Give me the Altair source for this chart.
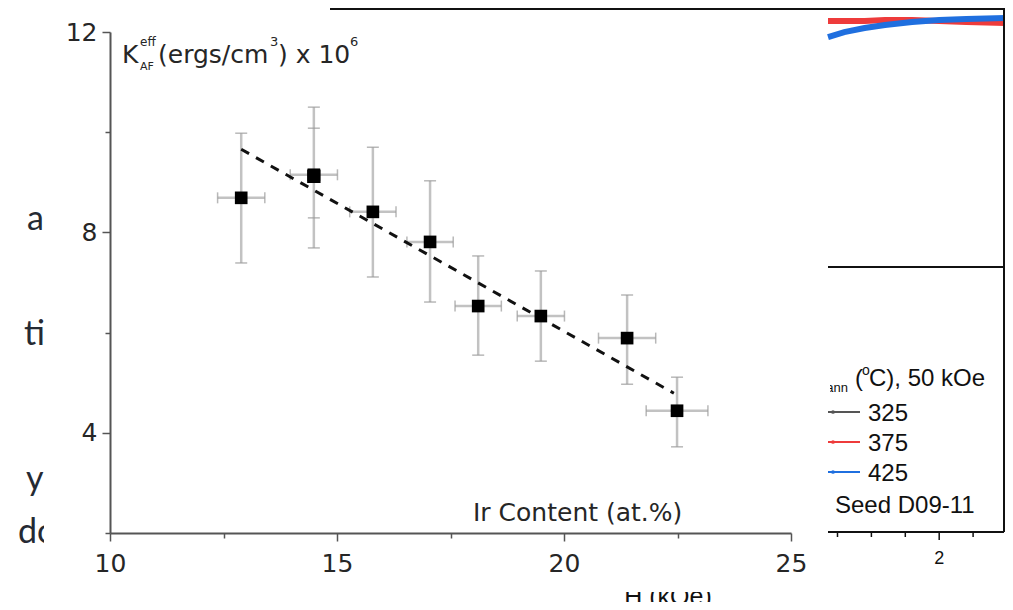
import altair as alt
import pandas as pd

# ---------------- main chart data ----------------
ir_content = [12.89, 14.49, 15.79, 17.05, 18.11, 19.49, 21.39, 22.49]
k_eff      = [8.69, 9.15, 8.41, 7.81, 6.53, 6.33, 5.89, 4.44]
k_low      = [7.39, 7.69, 7.11, 6.61, 5.55, 5.43, 4.97, 3.72]
k_high     = [9.98, 10.50, 9.70, 9.03, 7.53, 7.23, 6.75, 5.11]
ir_err     = [0.52, 0.52, 0.51, 0.51, 0.51, 0.52, 0.63, 0.68]

# overlapping repeat measurement at ~14.5 at.%
ir_rep     = [14.49]
k_rep      = [9.12]
k_rep_low  = [8.29]
k_rep_high = [10.08]

# linear fit (dashed)
fit_ir = [12.89, 22.42]
fit_k  = [9.66, 4.79]

x_ticks = [10, 12.5, 15, 17.5, 20, 22.5, 25]
y_ticks = [2, 4, 6, 8, 10, 12]

# ---------------- fragment of neighbouring figure (right) ----------------
field_h = [1.18, 1.3, 1.45, 1.6, 1.8, 2.0, 2.2, 2.5]
m_375   = [0.932, 0.932, 0.932, 0.936, 0.936, 0.932, 0.928, 0.924]
m_425   = [0.871, 0.890, 0.905, 0.917, 0.928, 0.936, 0.939, 0.943]
h_minor = [1.25, 1.5, 1.75, 2.25, 2.5]
h_major = [2.0]
h_major_labels = ["2"]
legend_labels = ["325", "375", "425"]
legend_colors = ["#555555", "#ee3b3b", "#1f6fdf"]

MAIN_FONT = "DejaVu Sans"
LEG_FONT = "Liberation Sans"
FRAG_FONT = "Lato"
MAIN_COL = "#262626"

one = pd.DataFrame({"d": [0]})


def vtext(s, x, y, size, font, color=MAIN_COL, align="left", baseline="alphabetic"):
    return alt.Chart(pd.DataFrame({"t": [s]})).mark_text(
        align=align, baseline=baseline, font=font, fontSize=size, color=color
    ).encode(text="t:N", x=alt.value(x), y=alt.value(y))


def vrule(x1, y1, x2, y2, color="#111111", width=2):
    return alt.Chart(one).mark_rule(color=color, strokeWidth=width).encode(
        x=alt.value(x1), x2=alt.value(x2), y=alt.value(y1), y2=alt.value(y2)
    )


df = pd.DataFrame({
    "ir": ir_content, "k": k_eff, "klo": k_low, "khi": k_high,
    "irlo": [a - e for a, e in zip(ir_content, ir_err)],
    "irhi": [a + e for a, e in zip(ir_content, ir_err)],
})
df_rep = pd.DataFrame({"ir": ir_rep, "k": k_rep, "klo": k_rep_low, "khi": k_rep_high})
df_fit = pd.DataFrame({"ir": fit_ir, "k": fit_k})

xs = alt.Scale(domain=[10, 25], nice=False, zero=False)
ys = alt.Scale(domain=[2, 12], nice=False, zero=False)

xaxis = alt.Axis(
    values=x_ticks, title=None, grid=False,
    labelExpr="datum.value % 5 == 0 ? datum.label : ''",
    domainColor="#555555", domainWidth=2, tickColor="#555555", tickWidth=1.5,
    tickSize={"condition": {"test": "datum.value % 5 == 0", "value": 8}, "value": 5},
    labelFont=MAIN_FONT, labelFontSize=25, labelColor=MAIN_COL, labelPadding=10,
    labelFlush=False, labelOverlap=False, zindex=1,
)
yaxis = alt.Axis(
    values=y_ticks, title=None, grid=False,
    labelExpr="datum.value % 4 == 0 ? datum.label : ''",
    domainColor="#555555", domainWidth=2, tickColor="#555555", tickWidth=1.5,
    tickSize={"condition": {"test": "datum.value % 4 == 0", "value": 8}, "value": 5},
    labelFont=MAIN_FONT, labelFontSize=25, labelColor=MAIN_COL, labelPadding=5,
    labelFlush=False, labelOverlap=False, zindex=1,
)


def X(f):
    return alt.X(f, type="quantitative", scale=xs, axis=xaxis)


def Y(f):
    return alt.Y(f, type="quantitative", scale=ys, axis=yaxis)


ERR = "#c2c2c2"
CAP = "#9a9a9a"

vbars = alt.Chart(df).mark_rule(color=ERR, strokeWidth=2.5).encode(x=X("ir"), y=Y("klo"), y2="khi")
hbars = alt.Chart(df).mark_rule(color=ERR, strokeWidth=2.5).encode(x=X("irlo"), x2="irhi", y=Y("k"))
cap_lo = alt.Chart(df).mark_tick(orient="horizontal", size=12, thickness=1.5, color=CAP).encode(x=X("ir"), y=Y("klo"))
cap_hi = alt.Chart(df).mark_tick(orient="horizontal", size=12, thickness=1.5, color=CAP).encode(x=X("ir"), y=Y("khi"))
cap_l = alt.Chart(df).mark_tick(orient="vertical", size=11, thickness=1.5, color=CAP).encode(x=X("irlo"), y=Y("k"))
cap_r = alt.Chart(df).mark_tick(orient="vertical", size=11, thickness=1.5, color=CAP).encode(x=X("irhi"), y=Y("k"))
rep_lo = alt.Chart(df_rep).mark_tick(orient="horizontal", size=12, thickness=1.5, color=CAP).encode(x=X("ir"), y=Y("klo"))
rep_hi = alt.Chart(df_rep).mark_tick(orient="horizontal", size=12, thickness=1.5, color=CAP).encode(x=X("ir"), y=Y("khi"))
fit = alt.Chart(df_fit).mark_line(color="#111111", strokeWidth=3, strokeDash=[9, 8]).encode(x=X("ir"), y=Y("k"))
pts = alt.Chart(df).mark_square(size=160, color="#000000", opacity=1).encode(x=X("ir"), y=Y("k"))
pts_rep = alt.Chart(df_rep).mark_square(size=180, color="#000000", opacity=1).encode(x=X("ir"), y=Y("k"))

main_texts = [
    vtext("K", 12, 31, 25, MAIN_FONT),
    vtext("eff", 30, 14, 12, MAIN_FONT),
    vtext("AF", 30, 38, 11, MAIN_FONT),
    vtext("(ergs/cm", 48, 31, 25, MAIN_FONT),
    vtext("3", 160, 14, 13, MAIN_FONT),
    vtext(") x 10", 168, 31, 25, MAIN_FONT),
    vtext("6", 240, 14, 13, MAIN_FONT),
    vtext("Ir Content (at.%)", 363, 489, 25, MAIN_FONT),
]

main = alt.layer(vbars, hbars, cap_lo, cap_hi, cap_l, cap_r, rep_lo, rep_hi,
                 fit, pts, pts_rep, *main_texts)

# ---------------- right fragment (independent scales) ----------------
hs = alt.Scale(domain=[1.18, 2.5], range=[718, 897], nice=False, zero=False)
ms = alt.Scale(domain=[0, 1], range=[235, -29], nice=False, zero=False)

df_375 = pd.DataFrame({"h": field_h, "m": m_375})
df_425 = pd.DataFrame({"h": field_h, "m": m_425})
curve_375 = alt.Chart(df_375).mark_line(color=legend_colors[1], strokeWidth=6).encode(
    x=alt.X("h:Q", scale=hs, axis=None), y=alt.Y("m:Q", scale=ms, axis=None))
curve_425 = alt.Chart(df_425).mark_line(color=legend_colors[2], strokeWidth=6).encode(
    x=alt.X("h:Q", scale=hs, axis=None), y=alt.Y("m:Q", scale=ms, axis=None))
ticks_minor = alt.Chart(pd.DataFrame({"h": h_minor})).mark_rule(color="#111111", strokeWidth=1.5).encode(
    x=alt.X("h:Q", scale=hs, axis=None), y=alt.value(500), y2=alt.value(505))
ticks_major = alt.Chart(pd.DataFrame({"h": h_major})).mark_rule(color="#111111", strokeWidth=1.5).encode(
    x=alt.X("h:Q", scale=hs, axis=None), y=alt.value(500), y2=alt.value(508))
tick_labels = alt.Chart(pd.DataFrame({"h": h_major, "t": h_major_labels})).mark_text(
    font=LEG_FONT, fontSize=18, color="#111111", align="center", baseline="alphabetic").encode(
    x=alt.X("h:Q", scale=hs, axis=None), y=alt.value(532), text="t:N")

legend_layers = []
for i, (lab, col) in enumerate(zip(legend_labels, legend_colors)):
    yy = 380 + 30 * i
    legend_layers.append(vrule(718, yy, 750, yy, color=col, width=2))
    legend_layers.append(
        alt.Chart(one).mark_point(filled=True, size=14, color=col, opacity=1).encode(
            x=alt.value(723), y=alt.value(yy)))
    legend_layers.append(vtext(lab, 758, yy + 9, 24, LEG_FONT, color="#111111"))

right = alt.layer(
    curve_375, curve_425, ticks_minor, ticks_major, tick_labels,
    vrule(718, 235, 894, 235), vrule(718, 500, 894, 500), vrule(894, -23, 894, 500),
    vtext("(", 745, 354, 24, LEG_FONT, color="#111111"),
    vtext("o", 752, 343, 14, LEG_FONT, color="#111111"),
    vtext("C), 50 kOe", 759, 354, 24, LEG_FONT, color="#111111"),
    vtext("Seed D09-11", 725, 481, 24, LEG_FONT, color="#111111"),
    *legend_layers,
)

# ---------------- background fragments (left text, bottom label) ----------------
FRAG_COL = "#252a33"
frag = [
    vtext("at", -83, 198, 34, FRAG_FONT, color=FRAG_COL),
    vtext("tiv", -86, 313, 34, FRAG_FONT, color=FRAG_COL),
    vtext("y", -84, 458, 34, FRAG_FONT, color=FRAG_COL),
    vtext("do", -92, 511, 34, FRAG_FONT, color=FRAG_COL),
    vtext("H (kOe)", 558, 573, 25, LEG_FONT, color="#111111", align="center"),
    vtext("ann", 738, 360, 13, LEG_FONT, color="#111111", align="right"),
]
white = alt.Chart(one).mark_rect(color="white", opacity=1).encode(
    x=alt.value(-66), x2=alt.value(720), y=alt.value(-27), y2=alt.value(560))

top_line = vrule(220, -23, 895, -23)

chart = alt.layer(*frag, white, main, right, top_line).resolve_scale(
    x="independent", y="independent"
).properties(
    width=681, height=501,
    autosize=alt.AutoSizeParams(type="none"),
    padding={"left": 102, "top": 24, "right": 214, "bottom": 69},
    background="white",
).configure_view(stroke=None)

chart.save("out.html", embed_options={"renderer": "svg", "actions": False})
